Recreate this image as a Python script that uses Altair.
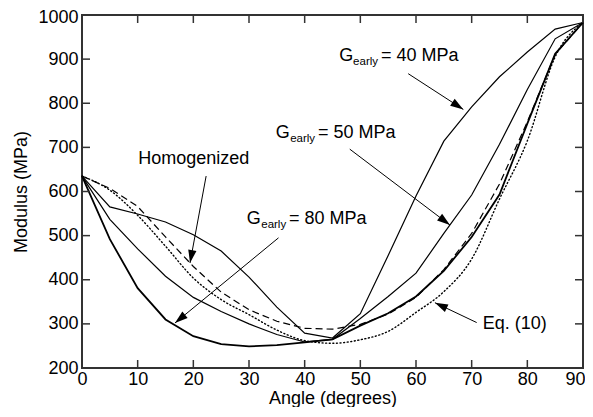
import math
import altair as alt
import pandas as pd

FONT = "Liberation Sans"
W, H = 501, 353
FS = 18
SUB = 11.5

# ---- data ----
angles = [0, 5, 10, 15, 20, 25, 30, 35, 40, 45, 50, 55, 60, 65, 70, 75, 80, 85, 90]
g40 = [635, 565, 549, 531, 502, 465, 406, 338, 279, 268, 323, 455, 590, 714, 792, 860, 916, 968, 983]
g50 = [635, 537, 470, 408, 360, 328, 300, 276, 259, 265, 312, 362, 415, 505, 592, 707, 831, 946, 983]
g80 = [635, 492, 381, 310, 272, 254, 249, 252, 258, 265, 296, 324, 362, 420, 497, 593, 754, 912, 983]
homog = [635, 607, 566, 497, 430, 372, 332, 306, 290, 288, 299, 322, 360, 423, 505, 617, 758, 911, 983]
eq10 = [635, 603, 546, 476, 404, 355, 321, 286, 262, 256, 264, 283, 326, 373, 447, 583, 715, 905, 983]

x_ticks = [0, 10, 20, 30, 40, 50, 60, 70, 80, 90]
y_ticks = [200, 300, 400, 500, 600, 700, 800, 900, 1000]

ann_text = ["G", "= 40 MPa", "G", "= 50 MPa", "G", "= 80 MPa", "Homogenized", "Eq. (10)"]
ann_x = [46.2, 53.7, 34.8, 42.4, 29.6, 37.2, 10.1, 72.0]
ann_y = [896, 896, 721, 721, 526, 526, 662, 288]

sub_text = ["early", "early", "early"]
sub_x = [48.7, 37.4, 32.2]
sub_y = [887, 712, 517]

arrow_x = [58.6, 48.1, 22.3, 35.3, 70.9]
arrow_y = [867, 696, 635, 495, 303]
arrow_tip_x = [68.5, 66.1, 19.4, 16.7, 63.4]
arrow_tip_y = [786, 524, 438, 302, 348]

# ---- scales / axes ----
xs = alt.Scale(domain=[0, 90], nice=False, zero=False)
ys = alt.Scale(domain=[200, 1000], nice=False, zero=False)

xaxis = alt.Axis(values=x_ticks, title="Angle (degrees)", ticks=False, tickSize=0,
                 domain=False, grid=False, labelFlush=False, labelOverlap=False,
                 labelAlign={"condition": {"test": "datum.value == 90", "value": "right"},
                             "value": "center"},
                 labelOffset={"condition": {"test": "datum.value == 90", "value": 2},
                              "value": 0},
                 labelPadding=2, labelFontSize=FS, labelFont=FONT, labelColor="black",
                 titleFontSize=FS, titleFont=FONT, titleColor="black",
                 titleFontWeight="normal", titleX=W / 2, titleY=35,
                 titleBaseline="alphabetic", titleAlign="center")
yaxis = alt.Axis(values=y_ticks, format="d", title="Modulus (MPa)", ticks=False, tickSize=0,
                 domain=False, grid=False, labelOverlap=False, labelFlush=False,
                 labelOffset={"condition": {"test": "datum.value == 1000", "value": 2},
                              "value": 0},
                 labelPadding=4, labelFontSize=FS, labelFont=FONT, labelColor="black",
                 titleFontSize=FS, titleFont=FONT, titleColor="black",
                 titleFontWeight="normal", titleX=-61, titleY=H / 2, titleAngle=270,
                 titleBaseline="middle", titleAlign="center")

X = lambda f: alt.X(f"{f}:Q", scale=xs, axis=xaxis)
Y = lambda f: alt.Y(f"{f}:Q", scale=ys, axis=yaxis)


def line(vals, **kw):
    df = pd.DataFrame({"angle": angles, "modulus": vals})
    return alt.Chart(df).mark_line(color="black", **kw).encode(x=X("angle"), y=Y("modulus"))


layers = [
    line(eq10, strokeWidth=1.4, strokeDash=[1, 2.6], strokeCap="round", interpolate="monotone"),
    line(homog, strokeWidth=1.2, strokeDash=[7, 4]),
    line(g40, strokeWidth=1.2),
    line(g50, strokeWidth=1.2),
    line(g80, strokeWidth=1.8),
]

# inward ticks on all four sides
xt = pd.DataFrame({"angle": x_ticks})
yt = pd.DataFrame({"modulus": y_ticks})
tick_kw = dict(color="#333333", strokeWidth=1.5)
layers += [
    alt.Chart(xt).mark_rule(**tick_kw).encode(x=X("angle"), y=alt.value(H), y2=alt.value(H - 8)),
    alt.Chart(xt).mark_rule(**tick_kw).encode(x=X("angle"), y=alt.value(0), y2=alt.value(8)),
    alt.Chart(yt).mark_rule(**tick_kw).encode(y=Y("modulus"), x=alt.value(0), x2=alt.value(8)),
    alt.Chart(yt).mark_rule(**tick_kw).encode(y=Y("modulus"), x=alt.value(W - 8), x2=alt.value(W)),
]

# annotation arrows
arr = pd.DataFrame({"angle": arrow_x, "modulus": arrow_y,
                    "tx": arrow_tip_x, "ty": arrow_tip_y})
ang = []
for sx, sy, tx, ty in zip(arrow_x, arrow_y, arrow_tip_x, arrow_tip_y):
    dx = (tx - sx) * W / 90.0
    dy = -(ty - sy) * H / 800.0
    ang.append(math.degrees(math.atan2(dx, -dy)) % 360)

layers.append(
    alt.Chart(arr).mark_rule(color="black", strokeWidth=1).encode(
        x=X("angle"), y=Y("modulus"), x2="tx:Q", y2="ty:Q")
)
heads = pd.DataFrame({"angle": arrow_tip_x, "modulus": arrow_tip_y, "rot": ang})
layers.append(
    alt.Chart(heads).mark_point(shape="M0,0L-0.32,1L0.32,1Z", filled=True, color="black",
                                opacity=1, size=676, strokeWidth=0).encode(
        x=X("angle"), y=Y("modulus"), angle=alt.Angle("rot:Q", scale=None))
)

# annotation text
ann = pd.DataFrame({"angle": ann_x, "modulus": ann_y, "t": ann_text})
layers.append(
    alt.Chart(ann).mark_text(align="left", baseline="alphabetic", fontSize=FS, font=FONT,
                             color="black").encode(x=X("angle"), y=Y("modulus"), text="t:N")
)
sub = pd.DataFrame({"angle": sub_x, "modulus": sub_y, "t": sub_text})
layers.append(
    alt.Chart(sub).mark_text(align="left", baseline="alphabetic", fontSize=SUB, font=FONT,
                             color="black").encode(x=X("angle"), y=Y("modulus"), text="t:N")
)

chart = alt.layer(*layers).properties(
    width=W, height=H,
    autosize=alt.AutoSizeParams(type="none"),
    padding={"left": 74, "top": 7, "right": 2, "bottom": 39},
).configure_view(stroke="#333333", strokeWidth=2)

chart.save("out.html", embed_options={"renderer": "svg", "actions": False})
